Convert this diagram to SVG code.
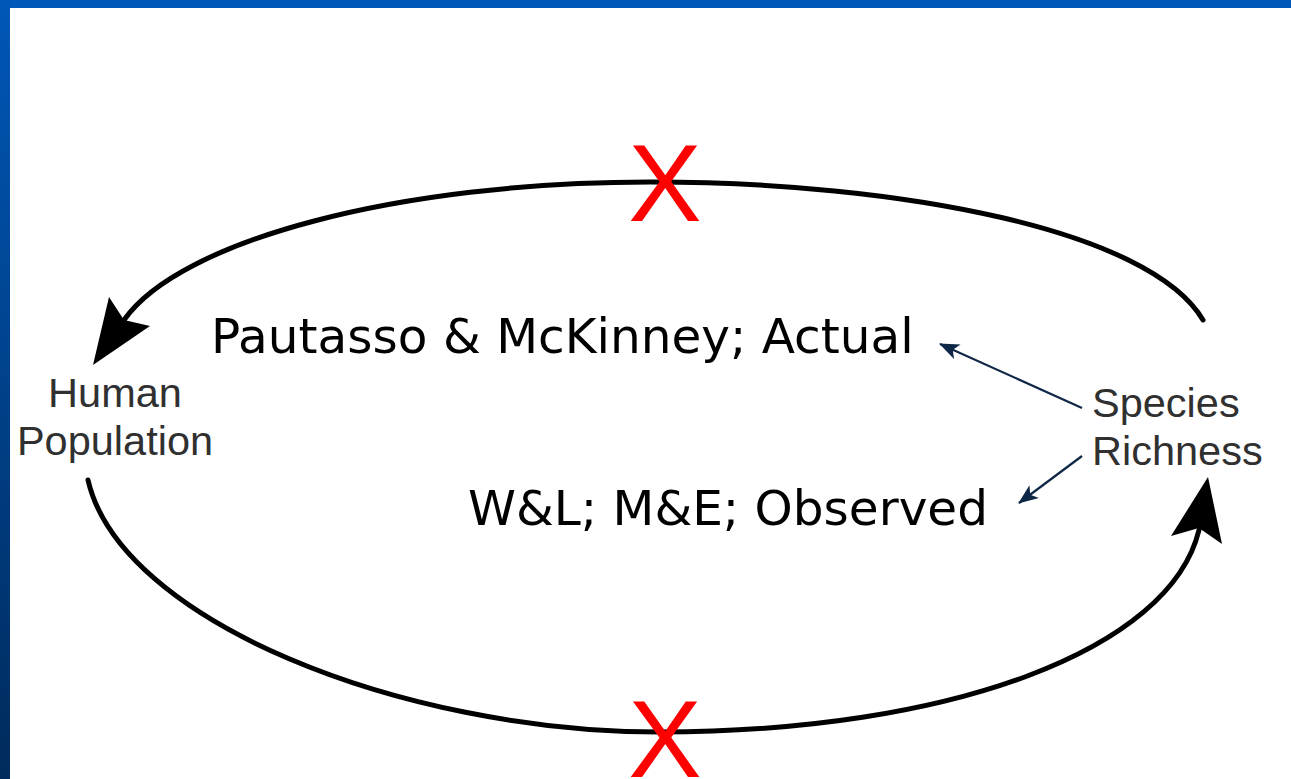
<svg xmlns="http://www.w3.org/2000/svg" width="1291" height="779" viewBox="0 0 1291 779">
<defs>
<linearGradient id="lb" x1="0" y1="0" x2="0" y2="1">
<stop offset="0" stop-color="#0057b7"/>
<stop offset="1" stop-color="#002b5c"/>
</linearGradient>
<marker id="nav" viewBox="0 0 20 16" refX="19" refY="8" markerWidth="20" markerHeight="16" markerUnits="userSpaceOnUse" orient="auto">
<path d="M0,0 L20,8 L0,16 L5,8 z" fill="#0f2747"/>
</marker>
</defs>
<style>
.big{font-family:"DejaVu Sans",Verdana,sans-serif;font-size:48.5px;fill:#000}
.lbl{font-family:"Liberation Sans",Arial,sans-serif;font-size:41.5px;fill:#303030}
.x{font-family:"Liberation Sans",Arial,sans-serif;font-size:110px;fill:#ff0000;text-anchor:middle}
.loop{fill:none;stroke:#000;stroke-width:5;stroke-linecap:round}
.head{fill:#000}
.nav{fill:none;stroke:#0f2747;stroke-width:2.2}
</style>
<rect x="0" y="0" width="1291" height="779" fill="#fff"/>
<rect x="0" y="0" width="1291" height="8" fill="#0059b9"/>
<rect x="0" y="0" width="10" height="779" fill="url(#lb)"/>

<g id="connectors">
<path class="loop" d="M1203,320 C1150,230 900,182 650,182 C400,182 180,240 124,320"/>
<polygon class="head" points="93,365 109,297 124,320 150,326"/>
<path class="loop" d="M88,480 C120,620 400,732 660,732 C950,732 1170,650 1199,530"/>
<polygon class="head" points="1208,477 1222,544 1199,528 1171,536"/>
<line class="nav" x1="1082" y1="408" x2="940" y2="344" marker-end="url(#nav)"/>
<line class="nav" x1="1082" y1="456" x2="1019" y2="503" marker-end="url(#nav)"/>
</g>

<g id="human-population">
<text class="lbl" x="115" y="407" text-anchor="middle">Human</text>
<text class="lbl" x="115" y="455" text-anchor="middle">Population</text>
</g>

<g id="species-richness">
<text class="lbl" x="1092" y="417">Species</text>
<text class="lbl" x="1092" y="465">Richness</text>
</g>

<g id="actual">
<text class="big" x="211" y="353">Pautasso &amp; McKinney; Actual</text>
</g>

<g id="observed">
<text class="big" x="468" y="525">W&amp;L; M&amp;E; Observed</text>
</g>

<g id="x-top">
<text class="x" x="665" y="221">X</text>
</g>
<g id="x-bottom">
<text class="x" x="665" y="777">X</text>
</g>
</svg>
